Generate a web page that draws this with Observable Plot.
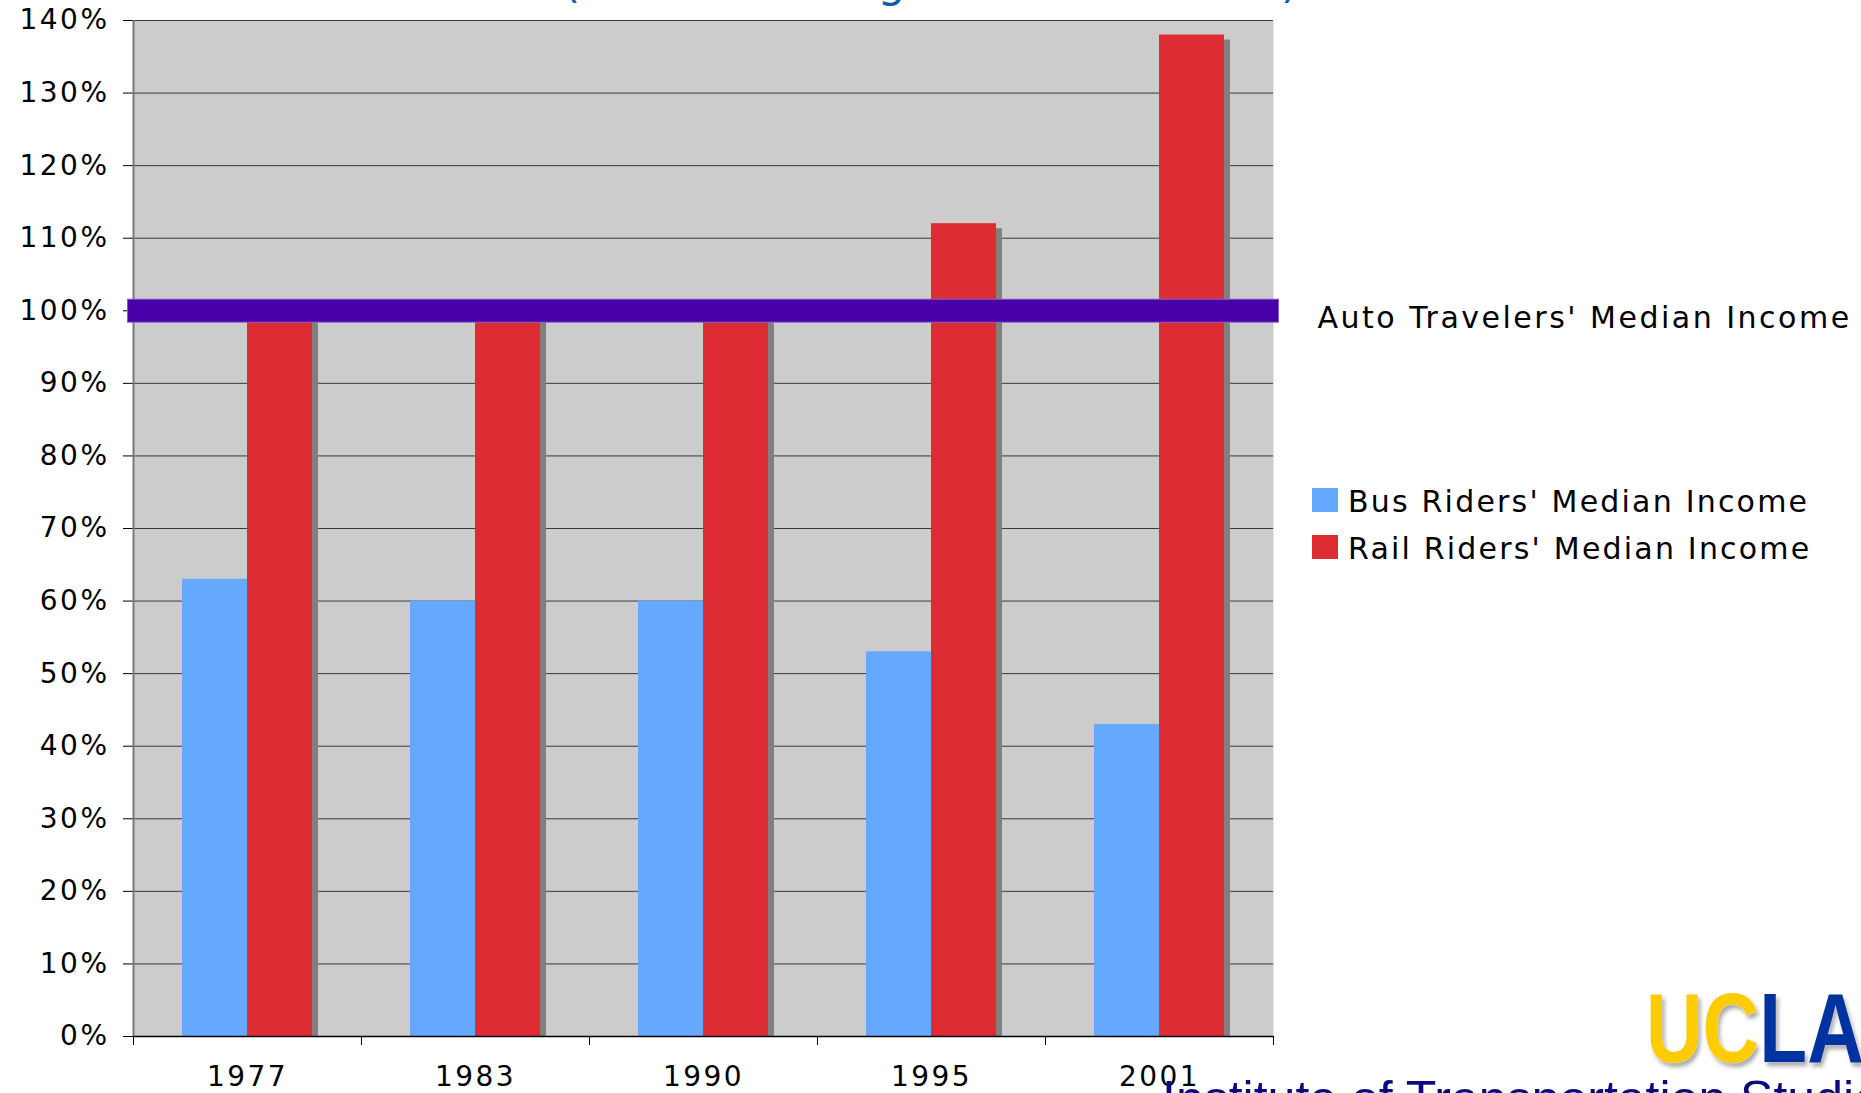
<!DOCTYPE html>
<html>
<head>
<meta charset="utf-8">
<script src="https://cdn.jsdelivr.net/npm/d3@7"></script>
<script src="https://cdn.jsdelivr.net/npm/@observablehq/plot@0.6"></script>
<style>
  html, body { margin: 0; padding: 0; background: #ffffff; width: 1861px; height: 1093px; overflow: hidden; position: relative; }
  #chart { position: absolute; left: 0; top: 0; }
  #title { position: absolute; left: 0; width: 1861px; top: -40px; text-align: center; font-family: "DejaVu Sans", sans-serif; font-size: 44px; line-height: 44px; color: #0e5ea0; white-space: nowrap; }
  .lg { position: absolute; font-family: "DejaVu Sans", sans-serif; font-size: 30px; line-height: 30px; letter-spacing: 2.2px; color: #000; white-space: nowrap; }
  .sw { position: absolute; width: 26px; height: 24px; }
  #ucla { position: absolute; left: 1646px; top: 979px; font-family: "Liberation Sans", Arial, sans-serif; font-weight: bold; font-size: 98px; line-height: 98px; transform: scaleX(0.8); transform-origin: 0 0; white-space: nowrap; text-shadow: 0 0 2px #fff, 3px 4px 5px rgba(0,0,0,0.35); }
  #its { position: absolute; left: 1162px; top: 1074px; font-family: "Liberation Sans", Arial, sans-serif; font-size: 50px; line-height: 50px; color: #0b0b7d; white-space: nowrap; }
</style>
</head>
<body>
<div id="chart"></div>
<div id="title"></div>
<div id="legend"></div>
<div id="ucla"><span style="color:#ffcc00">UC</span><span style="color:#0033a0">LA</span></div>
<div id="its"></div>
<script>
// ---- data ----
const years = ["1977", "1983", "1990", "1995", "2001"];
const busIncome = [63, 60, 60, 53, 43];
const railIncome = [100, 100, 100, 112, 138];
const autoIncome = [100];
const yTicks = [0, 10, 20, 30, 40, 50, 60, 70, 80, 90, 100, 110, 120, 130, 140];
const seriesNames = ["Bus Riders' Median Income", "Rail Riders' Median Income"];
const seriesColors = ["#64a9fe", "#dd2c33"];
const autoLabel = "Auto Travelers' Median Income";
const titleText = "(as a Percentage of Auto Income)";
const instituteText = "Institute of Transportation Studies";

const rows = years.map((year, i) => ({year, bus: busIncome[i], rail: railIncome[i]}));

const plot = Plot.plot({
  width: 1861,
  height: 1093,
  marginLeft: 133,
  marginRight: 588,
  marginTop: 20,
  marginBottom: 57,
  style: {fontFamily: "DejaVu Sans, sans-serif", fontSize: "28px", letterSpacing: "2.5px", color: "black", background: "transparent"},
  x: {type: "band", domain: years, padding: 0, label: null},
  y: {domain: [0, 140], label: null},
  marks: [
    Plot.frame({fill: "#cccccc", stroke: null}),
    Plot.gridY(yTicks, {stroke: "#3a3a3a", strokeOpacity: 1, strokeWidth: 1}),
    Plot.axisY(yTicks, {tickSize: 10, tickPadding: 14, tickFormat: d => d + "%", fontSize: 28, stroke: "black", strokeWidth: 1, label: null}),
    Plot.ruleX([years[0]], {dx: -114, stroke: "#777777", strokeWidth: 2}),
    Plot.axisX({ticks: years, tickSize: 9, tickFormat: () => "", dx: -114, stroke: "black", label: null}),
    Plot.axisX({ticks: [years[years.length - 1]], tickSize: 9, tickFormat: () => "", dx: 114, stroke: "black", label: null}),
    Plot.axisX({ticks: years, tickSize: 0, tickPadding: 30, fontSize: 28, label: null}),
    Plot.barY(rows, {x: "year", y: "rail", fill: "#808080", insetLeft: 114, insetRight: 49, dx: 6, dy: 5, clip: true}),
    Plot.barY(rows, {x: "year", y: "bus", fill: seriesColors[0], insetLeft: 49, insetRight: 114}),
    Plot.barY(rows, {x: "year", y: "rail", fill: seriesColors[1], insetLeft: 114, insetRight: 49}),
    Plot.ruleY([0], {stroke: "black", strokeWidth: 1.5}),
    Plot.ruleY(autoIncome, {stroke: "#8560c4", strokeWidth: 24, insetLeft: -6, insetRight: -6}),
    Plot.ruleY(autoIncome, {stroke: "#4a00a8", strokeWidth: 22, insetLeft: -5, insetRight: -5}),
    Plot.text([autoLabel], {y: autoIncome[0], frameAnchor: "right", text: d => d, textAnchor: "start", lineAnchor: "bottom", dx: 44, dy: 17, fontSize: 30, fill: "black", style: "letter-spacing:2.2px"})
  ]
});
document.getElementById("chart").appendChild(plot);

document.getElementById("title").textContent = titleText;
document.getElementById("its").textContent = instituteText;

// legend
const legend = document.getElementById("legend");
const legendTops = [488, 535];
seriesNames.forEach((name, i) => {
  const sw = document.createElement("div");
  sw.className = "sw";
  sw.style.left = "1312px";
  sw.style.top = legendTops[i] + "px";
  sw.style.background = seriesColors[i];
  legend.appendChild(sw);
  const t = document.createElement("div");
  t.className = "lg";
  t.style.left = "1348px";
  t.style.top = (legendTops[i] - 1) + "px";
  t.textContent = name;
  legend.appendChild(t);
});
</script>
</body>
</html>
